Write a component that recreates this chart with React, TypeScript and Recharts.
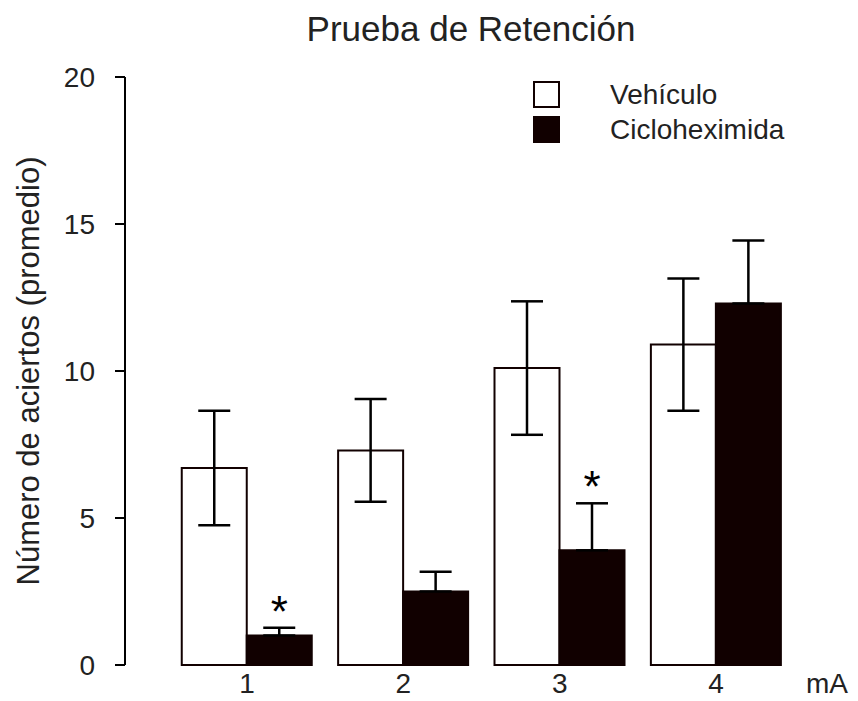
import { Bar, BarChart, ErrorBar, LabelList, Legend, XAxis, YAxis } from "recharts";

const FONT = '"Liberation Sans", Arial, Helvetica, sans-serif';
const INK = "#110000";

const categories = ["1", "2", "3", "4"];
const vehiculo = [6.7, 7.3, 10.1, 10.9];
const vehiculoErr = [1.95, 1.75, 2.27, 2.25];
const ciclo = [1.0, 2.5, 3.9, 12.3];
const cicloErr = [0.27, 0.67, 1.6, 2.14];
const significant = [true, false, true, false];
const yTicks = [0, 5, 10, 15, 20];

const series = [
  { key: "vehiculo", name: "Vehículo", fill: "#ffffff" },
  { key: "ciclo", name: "Cicloheximida", fill: INK },
];

const data = categories.map((dose, i) => ({
  dose,
  vehiculo: vehiculo[i],
  vehiculoErr: vehiculoErr[i],
  ciclo: ciclo[i],
  // only the upper whisker shows above the filled bar
  cicloErr: [0, cicloErr[i]],
  sig: significant[i],
}));

// "*" sits above the top of the error bar; px-per-unit taken from the bar itself
function Asterisk(props: any) {
  const { x, y, width, height, index } = props;
  if (!significant[index]) return null;
  const perUnit = height / ciclo[index];
  const errTop = y - cicloErr[index] * perUnit;
  return (
    <text
      x={x + width / 2}
      y={errTop - 1}
      textAnchor="middle"
      fontFamily={FONT}
      fontSize={44}
      fill="#000"
    >
      *
    </text>
  );
}

function LegendBox() {
  return (
    <div style={{ fontFamily: FONT, fontSize: 28, color: "#222" }}>
      {series.map((s) => (
        <div
          key={s.key}
          style={{ display: "flex", alignItems: "center", height: 35 }}
        >
          <span
            style={{
              display: "inline-block",
              boxSizing: "border-box",
              width: 27,
              height: 27,
              background: s.fill,
              border: `2px solid ${INK}`,
              marginRight: 50,
            }}
          />
          <span>{s.name}</span>
        </div>
      ))}
    </div>
  );
}

export default function App() {
  return (
    <div
      style={{ position: "relative", width: 850, height: 693, marginBottom: -8 }}
    >
      <style>{"html, body { overflow: hidden; }"}</style>
      <div
        style={{
          position: "absolute",
          top: 3,
          left: 263,
          width: 400,
          textAlign: "center",
          fontFamily: FONT,
          fontSize: 35,
          lineHeight: 1,
          color: "#222",
        }}
      >
        Prueba de Retención
      </div>
      <BarChart
        width={850}
        height={693}
        data={data}
        margin={{ top: 69, right: 0, bottom: 0, left: 0 }}
        barGap={0}
      >
        <XAxis
          dataKey="dose"
          height={36}
          axisLine={false}
          tickLine={false}
          tickSize={8}
          tickMargin={0}
          padding={{ left: 43.75, right: 63.75 }}
          tick={{ fontFamily: FONT, fontSize: 28, fill: "#222" }}
          label={(p: any) => {
            const vb = p.viewBox;
            return (
              <text
                x={798}
                y={vb.y + 8}
                dy="0.71em"
                textAnchor="start"
                fontFamily={FONT}
                fontSize={28}
                fill="#222"
              >
                mA
              </text>
            );
          }}
        />
        <YAxis
          width={117}
          domain={[0, 20]}
          ticks={yTicks}
          interval={0}
          axisLine={{ stroke: "#000", strokeWidth: 2 }}
          tickLine={{ stroke: "#000", strokeWidth: 2 }}
          tickSize={10}
          tickMargin={20}
          tick={{ fontFamily: FONT, fontSize: 28, fill: "#222" }}
          label={(p: any) => {
            const vb = p.viewBox;
            const cy = vb.y + vb.height / 2;
            return (
              <text
                x={20}
                y={cy}
                transform={`rotate(-90, 20, ${cy})`}
                textAnchor="middle"
                dominantBaseline="central"
                fontFamily={FONT}
                fontSize={31}
                fill="#222"
              >
                Número de aciertos (promedio)
              </text>
            );
          }}
        />
        <Legend
          layout="vertical"
          align="center"
          verticalAlign="middle"
          wrapperStyle={{ top: 69, left: 525, width: 300 }}
          content={() => <LegendBox />}
        />
        <Bar
          dataKey="vehiculo"
          name="Vehículo"
          fill="#ffffff"
          stroke={INK}
          strokeWidth={2}
          barSize={65}
          isAnimationActive={false}
        >
          <ErrorBar
            dataKey="vehiculoErr"
            width={16}
            stroke="#000"
            strokeWidth={2.5}
            isAnimationActive={false}
          />
        </Bar>
        <Bar
          dataKey="ciclo"
          name="Cicloheximida"
          fill={INK}
          stroke={INK}
          strokeWidth={2}
          barSize={65}
          isAnimationActive={false}
        >
          <ErrorBar
            dataKey="cicloErr"
            width={16}
            stroke="#000"
            strokeWidth={2.5}
            isAnimationActive={false}
          />
          <LabelList dataKey="ciclo" content={<Asterisk />} />
        </Bar>
      </BarChart>
    </div>
  );
}
